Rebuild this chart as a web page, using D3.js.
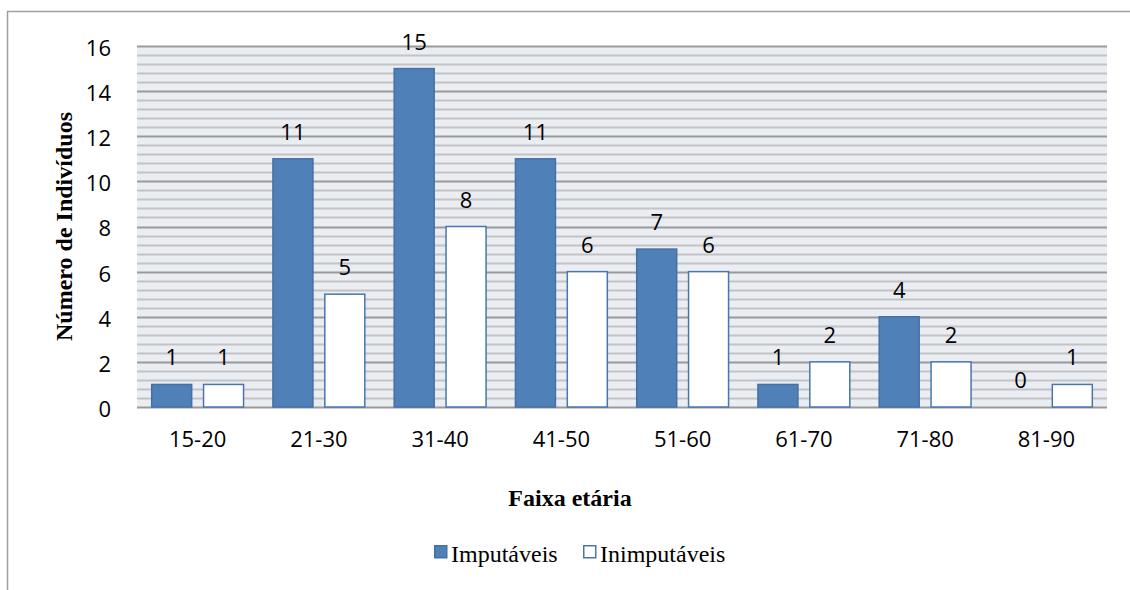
<!DOCTYPE html>
<html>
<head>
<meta charset="utf-8">
<script src="https://cdn.jsdelivr.net/npm/d3@7"></script>
<style>
  body { margin: 0; background: #fff; }
  svg text { fill: #000; }
  .tick-label { font-family: "Open Sans", "Noto Sans", sans-serif; font-size: 22px; }
  .serif { font-family: "Liberation Serif", "DejaVu Serif", serif; }
</style>
</head>
<body>
<div id="chart"></div>
<script>
const categories = ['15-20', '21-30', '31-40', '41-50', '51-60', '61-70', '71-80', '81-90'];
const imputaveis = [1, 11, 15, 11, 7, 1, 4, 0];
const inimputaveis = [1, 5, 8, 6, 6, 2, 2, 1];
const yTicks = [0, 2, 4, 6, 8, 10, 12, 14, 16];
const seriesNames = ['Imputáveis', 'Inimputáveis'];

const W = 1130, H = 590;
const margin = {top: 46, right: 23, bottom: 183, left: 137};
const width = W - margin.left - margin.right;
const height = H - margin.top - margin.bottom;

const svg = d3.select('#chart').append('svg')
  .attr('width', W)
  .attr('height', H);

// outer frame (only top and left visible)
svg.append('path')
  .attr('d', `M7.5 ${H} L7.5 11.5 L${W} 11.5`)
  .attr('fill', 'none')
  .attr('stroke', '#a0a0a0')
  .attr('stroke-width', 1.5);

const g = svg.append('g')
  .attr('transform', `translate(${margin.left},${margin.top})`);

const x = d3.scaleBand()
  .domain(categories)
  .range([0, width])
  .paddingInner(0.23)
  .paddingOuter(0.115);

const x1 = d3.scaleBand()
  .domain(seriesNames)
  .range([0, x.bandwidth()])
  .paddingInner(0.2);

const y = d3.scaleLinear()
  .domain([0, 16])
  .range([height, 0]);

// plot background
g.append('rect')
  .attr('width', width)
  .attr('height', height)
  .attr('fill', '#eaedf2');

// minor grid
const minor = d3.range(0, 16.01, 0.4).filter(v => Math.abs(v / 2 - Math.round(v / 2)) > 0.01);
g.selectAll('line.minor').data(minor).enter().append('line')
  .attr('class', 'minor')
  .attr('x1', 0).attr('x2', width)
  .attr('y1', d => Math.round(y(d)) + 0.5)
  .attr('y2', d => Math.round(y(d)) + 0.5)
  .attr('stroke', '#c3c3c5')
  .attr('stroke-width', 2);

// major grid
g.selectAll('line.major').data(yTicks).enter().append('line')
  .attr('class', 'major')
  .attr('x1', 0).attr('x2', width)
  .attr('y1', d => Math.round(y(d)) + 0.5)
  .attr('y2', d => Math.round(y(d)) + 0.5)
  .attr('stroke', '#9a9a9a')
  .attr('stroke-width', 2);

// y tick labels
g.selectAll('text.ytick').data(yTicks).enter().append('text')
  .attr('class', 'tick-label ytick')
  .attr('x', -26)
  .attr('y', d => y(d))
  .attr('dy', '0.45em')
  .attr('text-anchor', 'end')
  .text(d => d);

// bars
const rows = categories.map((c, i) => ({cat: c, vals: [imputaveis[i], inimputaveis[i]]}));
const grp = g.selectAll('g.grp').data(rows).enter().append('g')
  .attr('class', 'grp')
  .attr('transform', d => `translate(${x(d.cat)},0)`);

const cells = grp.selectAll('g.cell')
  .data(d => d.vals.map((v, j) => ({name: seriesNames[j], v, j})))
  .enter().append('g').attr('class', 'cell');

cells.filter(d => d.v > 0).append('rect')
  .attr('x', d => x1(d.name) + 0.75)
  .attr('y', d => y(d.v))
  .attr('width', x1.bandwidth() - 1.5)
  .attr('height', d => y(0) - y(d.v))
  .attr('fill', d => d.j === 0 ? '#5080b8' : '#ffffff')
  .attr('stroke', d => d.j === 0 ? '#4470a6' : '#4a76ad')
  .attr('stroke-width', 1.5);

cells.append('text')
  .attr('class', 'tick-label')
  .attr('x', d => x1(d.name) + x1.bandwidth() / 2)
  .attr('y', d => y(d.v) - 19)
  .attr('text-anchor', 'middle')
  .text(d => d.v);

// x tick labels
g.selectAll('text.xtick').data(categories).enter().append('text')
  .attr('class', 'tick-label xtick')
  .attr('x', d => x(d) + x.bandwidth() / 2)
  .attr('y', height + 40)
  .attr('text-anchor', 'middle')
  .text(d => d);

// axis titles
svg.append('text')
  .attr('class', 'serif')
  .attr('transform', `translate(72,${margin.top + height / 2}) rotate(-90)`)
  .attr('text-anchor', 'middle')
  .attr('font-size', 24)
  .attr('font-weight', 'bold')
  .text('Número de Indivíduos');

svg.append('text')
  .attr('class', 'serif')
  .attr('x', 570)
  .attr('y', 506)
  .attr('text-anchor', 'middle')
  .attr('font-size', 24)
  .attr('font-weight', 'bold')
  .text('Faixa etária');

// legend
const legendX = [434, 583];
const leg = svg.selectAll('g.leg').data(seriesNames).enter().append('g')
  .attr('class', 'leg')
  .attr('transform', (d, i) => `translate(${legendX[i]},545)`);
leg.append('rect')
  .attr('x', 0.75).attr('y', 0.75)
  .attr('width', 12).attr('height', 12)
  .attr('fill', (d, i) => i === 0 ? '#5080b8' : '#ffffff')
  .attr('stroke', (d, i) => i === 0 ? '#4470a6' : '#4a76ad')
  .attr('stroke-width', 1.5);
leg.append('text')
  .attr('class', 'serif')
  .attr('x', 17)
  .attr('y', 17)
  .attr('font-size', 24)
  .text(d => d);
</script>
</body>
</html>
